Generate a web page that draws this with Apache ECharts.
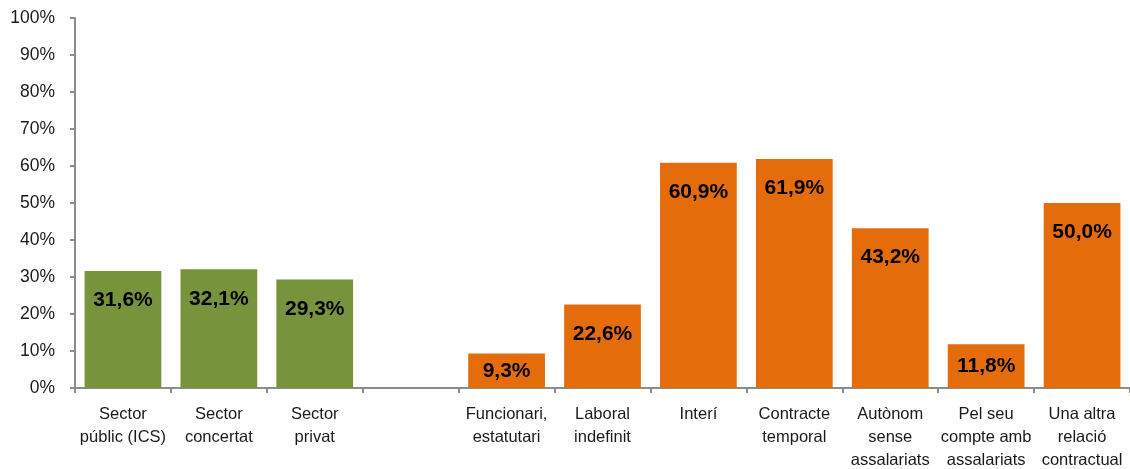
<!DOCTYPE html>
<html>
<head>
<meta charset="utf-8">
<script src="https://cdn.jsdelivr.net/npm/echarts@6/dist/echarts.min.js"></script>
<style>
  html, body { margin: 0; padding: 0; background: #ffffff; overflow: hidden; }
  #chart { width: 1130px; height: 469px; }
</style>
</head>
<body>
<div id="chart"></div>
<script>
// Categories: three sectors, an empty spacer slot, then seven contract types
const categories = [
  'Sector\npúblic (ICS)', 'Sector\nconcertat', 'Sector\nprivat', '',
  'Funcionari,\nestatutari', 'Laboral\nindefinit', 'Interí', 'Contracte\ntemporal',
  'Autònom\nsense\nassalariats', 'Pel seu\ncompte amb\nassalariats', 'Una altra\nrelació\ncontractual'
];
const sectorValues = [31.6, 32.1, 29.3];
const contractValues = [9.3, 22.6, 60.9, 61.9, 43.2, 11.8, 50.0];
const yTicks = [0, 10, 20, 30, 40, 50, 60, 70, 80, 90, 100];

const GREEN = '#77933C';
const ORANGE = '#E46C0A';

const data = [];
sectorValues.forEach(v => data.push({ value: v, itemStyle: { color: GREEN } }));
data.push('-');
contractValues.forEach(v => data.push({ value: v, itemStyle: { color: ORANGE } }));

// Short bars get their value centred inside the bar
data.forEach(d => {
  if (typeof d === 'object' && d.value < 15) {
    d.label = { position: 'inside', distance: 0 };
  }
});

const chart = echarts.init(document.getElementById('chart'));
chart.setOption({
  animation: false,
  backgroundColor: '#ffffff',
  grid: { left: 75, right: 0, top: 18, bottom: 81, containLabel: false, outerBoundsMode: 'none' },
  xAxis: {
    type: 'category',
    data: categories,
    axisLine: { lineStyle: { color: '#8C8C8C', width: 2 } },
    axisTick: { show: true, alignWithLabel: false, length: 5, lineStyle: { color: '#8C8C8C', width: 2 } },
    axisLabel: {
      interval: 0,
      margin: 15,
      color: '#1a1a1a',
      fontFamily: 'Liberation Sans, Arial, sans-serif',
      fontSize: 16.5,
      lineHeight: 23,
      align: 'center'
    }
  },
  yAxis: {
    type: 'value',
    min: yTicks[0],
    max: yTicks[yTicks.length - 1],
    interval: 10,
    splitLine: { show: false },
    axisLine: { show: true, lineStyle: { color: '#8C8C8C', width: 2 } },
    axisTick: { show: true, length: 5, lineStyle: { color: '#8C8C8C', width: 2 } },
    axisLabel: {
      formatter: v => v + '%',
      margin: 20,
      color: '#1a1a1a',
      fontFamily: 'Liberation Sans, Arial, sans-serif',
      fontSize: 17.5
    }
  },
  series: [{
    type: 'bar',
    data: data,
    barCategoryGap: '20%',
    label: {
      show: true,
      position: 'insideTop',
      distance: 19,
      formatter: p => p.value.toFixed(1).replace('.', ',') + '%',
      color: '#000000',
      fontFamily: 'Liberation Sans, Arial, sans-serif',
      fontWeight: 'bold',
      fontSize: 21
    }
  }]
});
</script>
</body>
</html>
